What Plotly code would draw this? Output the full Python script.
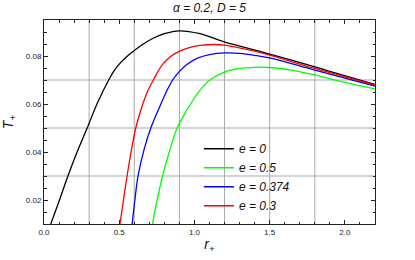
import plotly.graph_objects as go

# ---- data ----
r_e0 = [0.045, 0.10, 0.159, 0.22, 0.287, 0.355, 0.43, 0.47, 0.503, 0.57, 0.603, 0.66, 0.725, 0.80, 0.90, 1.037, 1.197, 1.37, 1.50, 1.80, 1.90, 2.20]
T_e0 = [0.0100, 0.0195, 0.0300, 0.0400, 0.0500, 0.0604, 0.0700, 0.0742, 0.0768, 0.0808, 0.0824, 0.0850, 0.0874, 0.0893, 0.0905, 0.0893, 0.0859, 0.0830, 0.0808, 0.0755, 0.0736, 0.0682]

r_e05 = [0.721, 0.752, 0.788, 0.835, 0.885, 0.95, 1.00, 1.04, 1.107, 1.20, 1.30, 1.40, 1.50, 1.65, 1.80, 1.90, 2.20]
T_e05 = [0.0100, 0.0200, 0.0300, 0.0405, 0.0500, 0.0575, 0.0625, 0.0660, 0.0702, 0.0733, 0.0748, 0.0753, 0.0752, 0.0740, 0.0721, 0.0705, 0.0663]

r_e0374 = [0.586, 0.604, 0.625, 0.665, 0.71, 0.77, 0.81, 0.855, 0.90, 0.95, 1.02, 1.10, 1.20, 1.30, 1.40, 1.50, 1.80, 2.20]
T_e0374 = [0.0100, 0.0200, 0.0300, 0.0410, 0.0500, 0.0590, 0.0647, 0.0700, 0.0736, 0.0765, 0.0791, 0.0806, 0.0813, 0.0811, 0.0803, 0.0792, 0.0741, 0.0675]

r_e03 = [0.505, 0.528, 0.552, 0.58, 0.61, 0.633, 0.657, 0.69, 0.727, 0.76, 0.792, 0.84, 0.892, 0.96, 1.037, 1.137, 1.20, 1.37, 1.50, 1.80, 2.20]
T_e03 = [0.0100, 0.0200, 0.0300, 0.0405, 0.0500, 0.0553, 0.0600, 0.0655, 0.0700, 0.0738, 0.0768, 0.0797, 0.0817, 0.0834, 0.0844, 0.0848, 0.0845, 0.0824, 0.0804, 0.0748, 0.0679]

series_names = ["e = 0", "e = 0.5", "e = 0.374", "e = 0.3"]
series_colors = ["#000000", "#00ff00", "#0000ff", "#ff0000"]

x_ticks = [0.0, 0.5, 1.0, 1.5, 2.0]
y_ticks = [0.02, 0.04, 0.06, 0.08]
grid_x = [0.3, 0.6, 0.9, 1.2, 1.5, 1.8]
grid_y = [0.03, 0.05, 0.07]

FONT = "Liberation Sans, Arial, sans-serif"

fig = go.Figure()
for xs, ys, name, col in zip([r_e0, r_e05, r_e0374, r_e03],
                             [T_e0, T_e05, T_e0374, T_e03],
                             series_names, series_colors):
    fig.add_trace(go.Scatter(
        x=xs, y=ys, mode="lines", name=f"<i>{name}</i>",
        line=dict(color=col, width=1.3, shape="spline", smoothing=1.0),
    ))

shapes = []
for gx in grid_x:
    shapes.append(dict(type="line", xref="x", yref="paper", x0=gx, x1=gx, y0=0, y1=1,
                       line=dict(color="#a8a8a8", width=1), layer="below"))
for gy in grid_y:
    shapes.append(dict(type="line", xref="paper", yref="y", x0=0, x1=1, y0=gy, y1=gy,
                       line=dict(color="#a8a8a8", width=1), layer="below"))

fig.update_layout(
    width=415, height=260,
    margin=dict(l=44, r=40, t=20, b=36),
    paper_bgcolor="white", plot_bgcolor="white",
    font=dict(family=FONT, size=8, color="#222222"),
    title=dict(text="<i>α = 0.2, D = 5</i>", x=0.5, xref="paper", xanchor="center",
               y=1 - 8 / 260, yref="container", yanchor="middle",
               font=dict(family=FONT, size=12, color="#111111")),
    showlegend=True,
    legend=dict(x=0.468, y=0.44, xanchor="left", yanchor="top",
                bgcolor="rgba(0,0,0,0)", borderwidth=0,
                font=dict(family=FONT, size=12, color="#111111")),
    shapes=shapes,
)

fig.update_xaxes(
    range=[0, 2.2], tickvals=x_ticks, ticktext=[f"{v:.1f}" for v in x_ticks],
    showgrid=False, zeroline=False, automargin=False,
    showline=True, linecolor="#222222", linewidth=1, mirror="ticks",
    ticks="inside", ticklen=4, tickcolor="#222222", tickwidth=1,
    minor=dict(dtick=0.1, tick0=0, ticks="inside", ticklen=2.5, tickcolor="#222222", showgrid=False),
    title=dict(text="<i>r</i><sub>+</sub>", font=dict(family=FONT, size=14, color="#111111"), standoff=3),
)
fig.update_yaxes(
    range=[0.01, 0.095], tickvals=y_ticks, ticktext=[f"{v:.2f}" for v in y_ticks],
    showgrid=False, zeroline=False, automargin=False,
    showline=True, linecolor="#222222", linewidth=1, mirror="ticks",
    ticks="inside", ticklen=4, tickcolor="#222222", tickwidth=1,
    minor=dict(dtick=0.005, tick0=0, ticks="inside", ticklen=2.5, tickcolor="#222222", showgrid=False),
    title=dict(text="<i>T</i><sub>+</sub>", font=dict(family=FONT, size=14, color="#111111"), standoff=8),
)

# remove the browser's default 8px page margin so the figure sits at the window's corner
fig.write_html("out.html", config={"displayModeBar": False},
               post_script="document.body.style.margin='0px';")
